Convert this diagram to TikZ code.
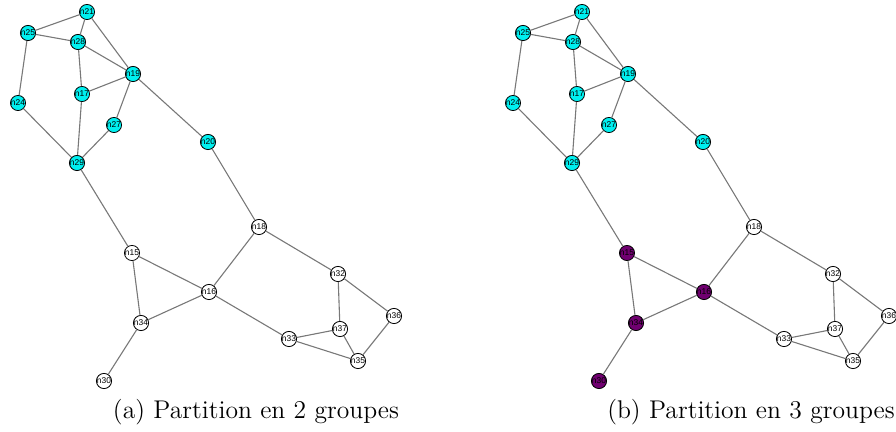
\documentclass[tikz,border=0pt]{standalone}
\usepackage{fontspec}
\newfontfamily\nodefont{Liberation Sans}
\definecolor{grpone}{RGB}{0,240,240}
\definecolor{grpthree}{RGB}{112,0,112}
\definecolor{edgegray}{RGB}{120,120,120}

\begin{document}
\begin{tikzpicture}[x=0.5pt,y=-0.5pt,
    vertex/.style={circle,draw=black,line width=0.4pt,inner sep=0pt,
        minimum size=7.4pt,font=\nodefont\fontsize{4.2}{4.5}\selectfont},
    link/.style={draw=edgegray,line width=0.55pt},
    legend/.style={font=\fontsize{12.8}{15}\selectfont}]
    \useasboundingbox (0,0) rectangle (896,432);
    \foreach \p/\dx/\g in {a/0/white, b/495/grpthree} {
        \begin{scope}[xshift=\dx*0.5pt]
            % first group
            \foreach \n/\x/\y in {21/87/12, 25/28/33, 28/78/42, 19/133/74, 17/82/94,
                    24/18/103, 27/114/125, 20/208/142, 29/77/163}
                \node[vertex,fill=grpone] (\p\n) at (\x,\y) {n\n};
            % third group (only coloured in b)
            \foreach \n/\x/\y in {15/132/253, 16/209/292, 34/141/323, 30/104/381}
                \node[vertex,fill=\g] (\p\n) at (\x,\y) {n\n};
            % second group
            \foreach \n/\x/\y in {18/259/227, 32/338/274, 36/394/316, 37/340/329,
                    33/289/339, 35/358/361}
                \node[vertex,fill=white] (\p\n) at (\x,\y) {n\n};
            \foreach \s/\t in {21/25, 21/28, 21/19, 25/28, 25/24, 28/19, 28/17,
                    19/17, 19/27, 19/20, 17/29, 24/29, 27/29, 29/15, 20/18,
                    18/16, 18/32, 15/16, 15/34, 16/34, 16/33, 34/30, 32/37,
                    32/36, 36/35, 37/33, 37/35, 33/35}
                \draw[link] (\p\s) -- (\p\t);
        \end{scope}
    }
    \node[legend] (capa) at (256,412) {(a) Partition en 2 groupes};
    \node[legend] (capb) at (751,412) {(b) Partition en 3 groupes};
\end{tikzpicture}
\end{document}
